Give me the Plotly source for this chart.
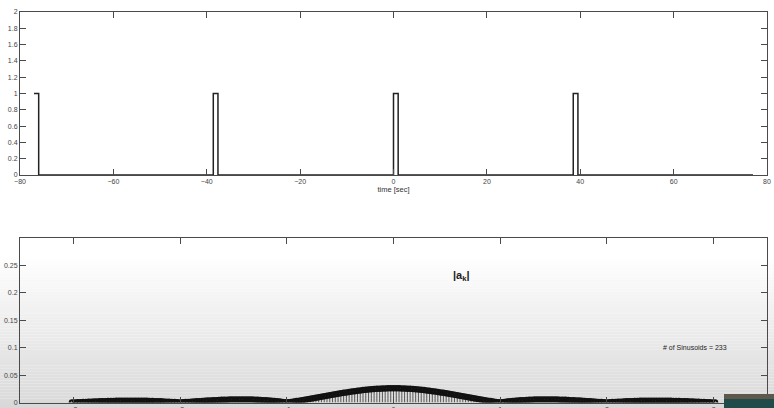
import plotly.graph_objects as go

# top panel: rectangular pulse train
pulse_t = [-77, -76, -76, -38.6, -38.6, -37.6, -37.6, 0, 0, 1, 1, 38.5, 38.5, 39.5, 39.5, 77]
pulse_x = [1, 1, 0, 0, 1, 1, 0, 0, 1, 1, 0, 0, 1, 1, 0, 0]

# bottom panel: |a_k| of 233 harmonics, period ~38.5 s
period = 38.5
harmonic = list(range(-116, 117))
ak_mag = [
    0.0001, 0.0001, 0.0003, 0.0006, 0.0008, 0.0010, 0.0013, 0.0015, 0.0017, 0.0019,
    0.0021, 0.0023, 0.0025, 0.0026, 0.0028, 0.0029, 0.0030, 0.0031, 0.0032, 0.0033,
    0.0033, 0.0033, 0.0033, 0.0033, 0.0033, 0.0032, 0.0031, 0.0030, 0.0028, 0.0027,
    0.0025, 0.0023, 0.0021, 0.0018, 0.0015, 0.0013, 0.0010, 0.0007, 0.0003, 0.0000,
    0.0003, 0.0007, 0.0010, 0.0014, 0.0018, 0.0021, 0.0025, 0.0028, 0.0031, 0.0035,
    0.0038, 0.0041, 0.0043, 0.0046, 0.0048, 0.0050, 0.0052, 0.0054, 0.0055, 0.0056,
    0.0056, 0.0056, 0.0056, 0.0056, 0.0055, 0.0053, 0.0051, 0.0049, 0.0046, 0.0043,
    0.0040, 0.0036, 0.0031, 0.0027, 0.0021, 0.0016, 0.0010, 0.0003, 0.0003, 0.0011,
    0.0018, 0.0026, 0.0034, 0.0042, 0.0050, 0.0059, 0.0068, 0.0077, 0.0086, 0.0095,
    0.0104, 0.0114, 0.0123, 0.0132, 0.0141, 0.0150, 0.0159, 0.0168, 0.0176, 0.0184,
    0.0192, 0.0200, 0.0207, 0.0214, 0.0220, 0.0226, 0.0232, 0.0237, 0.0242, 0.0246,
    0.0250, 0.0253, 0.0255, 0.0257, 0.0259, 0.0260, 0.0260,
    0.0260, 0.0259, 0.0257, 0.0255, 0.0253, 0.0250, 0.0246, 0.0242, 0.0237, 0.0232,
    0.0226, 0.0220, 0.0214, 0.0207, 0.0200, 0.0192, 0.0184, 0.0176, 0.0168, 0.0159,
    0.0150, 0.0141, 0.0132, 0.0123, 0.0114, 0.0104, 0.0095, 0.0086, 0.0077, 0.0068,
    0.0059, 0.0050, 0.0042, 0.0034, 0.0026, 0.0018, 0.0011, 0.0003, 0.0003, 0.0010,
    0.0016, 0.0021, 0.0027, 0.0031, 0.0036, 0.0040, 0.0043, 0.0046, 0.0049, 0.0051,
    0.0053, 0.0055, 0.0056, 0.0056, 0.0056, 0.0056, 0.0056, 0.0055, 0.0054, 0.0052,
    0.0050, 0.0048, 0.0046, 0.0043, 0.0041, 0.0038, 0.0035, 0.0031, 0.0028, 0.0025,
    0.0021, 0.0018, 0.0014, 0.0010, 0.0007, 0.0003, 0.0000, 0.0003, 0.0007, 0.0010,
    0.0013, 0.0015, 0.0018, 0.0021, 0.0023, 0.0025, 0.0027, 0.0028, 0.0030, 0.0031,
    0.0032, 0.0033, 0.0033, 0.0033, 0.0033, 0.0033, 0.0033, 0.0032, 0.0031, 0.0030,
    0.0029, 0.0028, 0.0026, 0.0025, 0.0023, 0.0021, 0.0019, 0.0017, 0.0015, 0.0013,
    0.0010, 0.0008, 0.0006, 0.0003, 0.0001, 0.0001,
]

freq = [k / period for k in harmonic]
W, H = 774, 408
FONT = "Liberation Sans, Arial, sans-serif"
AXCOL = "#4a4a4a"

fig = go.Figure()

# grey gradient behind the lower half (screen capture shading)
n_band = 50
y_top, y_bot = 255, H
for i in range(n_band):
    y0 = y_top + (y_bot - y_top) * i / n_band
    y1 = y_top + (y_bot - y_top) * (i + 1) / n_band
    g = int(round(255 - (255 - 216) * (i + 0.5) / n_band))
    fig.add_shape(type="rect", xref="paper", yref="paper", x0=0, x1=1,
                  y0=1 - y1 / H, y1=1 - y0 / H, fillcolor=f"rgb({g},{g},{g})",
                  line_width=0, layer="below")

fig.add_trace(go.Scatter(x=pulse_t, y=pulse_x, mode="lines",
                         line=dict(color="#222", width=1.5),
                         xaxis="x", yaxis="y", hoverinfo="skip"))

# stems
stem_x, stem_y = [], []
for f, a in zip(freq, ak_mag):
    stem_x += [f, f, None]
    stem_y += [0, a, None]
fig.add_trace(go.Scatter(x=stem_x, y=stem_y, mode="lines",
                         line=dict(color="#333", width=0.8),
                         xaxis="x2", yaxis="y2", hoverinfo="skip"))
fig.add_trace(go.Scatter(x=freq, y=ak_mag, mode="markers",
                         marker=dict(symbol="circle-open", size=4.5, color="#111",
                                     line=dict(width=2, color="#111")),
                         xaxis="x2", yaxis="y2"))

axis_common = dict(showline=True, linecolor=AXCOL, linewidth=1, mirror="ticks",
                   ticks="inside", ticklen=6, tickcolor=AXCOL, showgrid=False,
                   zeroline=False, automargin=False,
                   tickfont=dict(family=FONT, size=7, color="#444"))

xd = [20 / W, 767 / W]
fig.update_layout(
    width=W, height=H,
    margin=dict(l=0, r=0, t=0, b=0),
    paper_bgcolor="white",
    plot_bgcolor="rgba(0,0,0,0)",
    showlegend=False,
    xaxis=dict(domain=xd, range=[-80, 80], dtick=20, anchor="y",
               title=dict(text="time [sec]", font=dict(family=FONT, size=7.5, color="#333"),
                          standoff=2), **axis_common),
    yaxis=dict(domain=[1 - 175 / H, 1 - 12 / H], range=[0, 2], dtick=0.2,
               anchor="x", **axis_common),
    xaxis2=dict(domain=xd, range=[-3.5, 3.5], dtick=1, anchor="y2", **axis_common),
    yaxis2=dict(domain=[1 - 402.5 / H, 1 - 238 / H], range=[0, 0.3],
                tickvals=[0, 0.05, 0.1, 0.15, 0.2, 0.25],
                ticktext=["0", "0.05", "0.1", "0.15", "0.2", "0.25"],
                anchor="x2", **axis_common),
)

fig.add_annotation(xref="paper", yref="paper", x=461 / W, y=1 - 276 / H,
                   xanchor="center", yanchor="middle",
                   text="<b>|a<sub>k</sub>|</b>", showarrow=False,
                   font=dict(family=FONT, size=11, color="#222"))
fig.add_annotation(xref="paper", yref="paper", x=695 / W, y=1 - 347 / H,
                   xanchor="center", yanchor="middle",
                   text="# of Sinusoids = 233", showarrow=False,
                   font=dict(family=FONT, size=7, color="#222"))

# video overlay box in the bottom-right corner
fig.add_shape(type="rect", xref="paper", yref="paper", x0=724 / W, x1=1,
              y0=0, y1=1 - 394 / H, fillcolor="#1f4c4a", line_width=0)
fig.add_shape(type="rect", xref="paper", yref="paper", x0=724 / W, x1=1,
              y0=1 - 399 / H, y1=1 - 394 / H, fillcolor="#5e584c", line_width=0)

# drop the default 8px page margin so the figure sits at the window corner
fig.write_html("out.html", config={"displayModeBar": False},
               post_script="document.body.style.margin='0';")
